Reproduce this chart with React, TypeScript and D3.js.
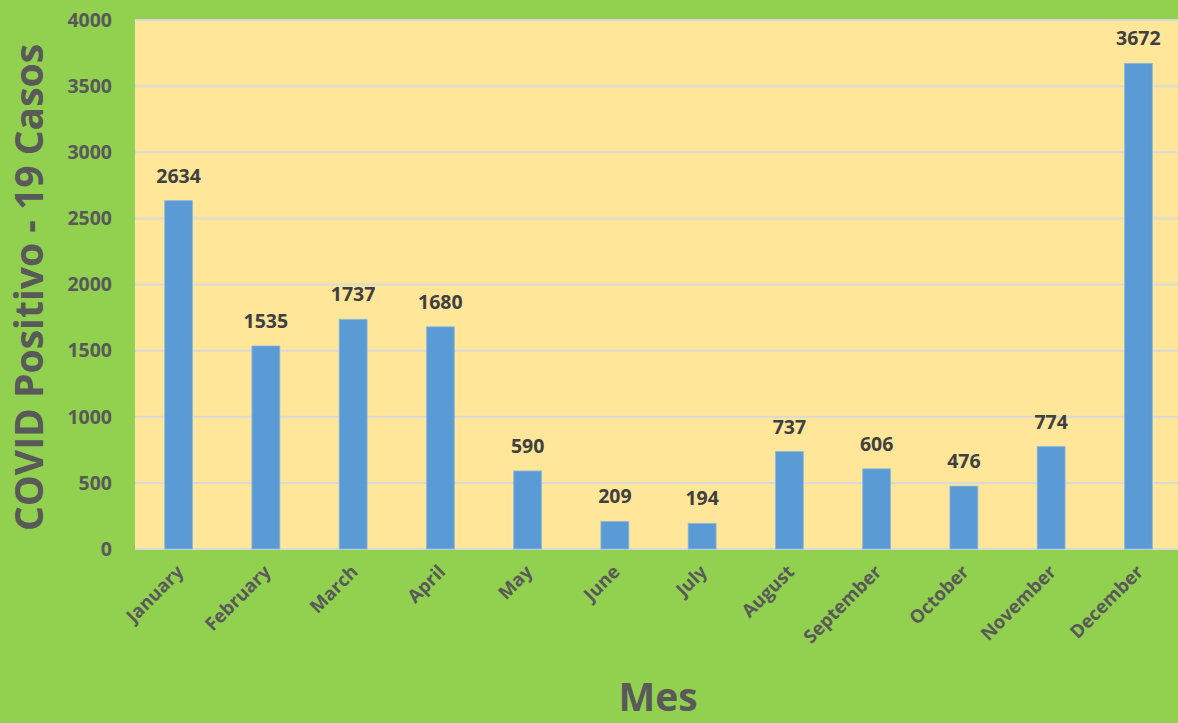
import React from 'react';
import * as d3 from 'd3';

const months = ['January', 'February', 'March', 'April', 'May', 'June', 'July', 'August', 'September', 'October', 'November', 'December'];
const casos = [2634, 1535, 1737, 1680, 590, 209, 194, 737, 606, 476, 774, 3672];
const yTicks = [0, 500, 1000, 1500, 2000, 2500, 3000, 3500, 4000];

const W = 1178;
const H = 723;
const plot = { left: 135, right: 1182, top: 20, bottom: 549 };
const font = '"Open Sans", "Liberation Sans", sans-serif';

export default function App() {
  const x = d3.scaleBand<string>().domain(months).range([plot.left, plot.right]).paddingInner(0.68).paddingOuter(0.34);
  const y = d3.scaleLinear().domain([0, 4000]).range([plot.bottom, plot.top]);

  return (
    <svg width={W} height={H} style={{ position: 'absolute', left: 0, top: 0 }}>
      <rect x={0} y={0} width={W} height={H} fill="#92D050" />
      <rect x={plot.left} y={plot.top} width={plot.right - plot.left} height={plot.bottom - plot.top} fill="#FFE699" />
      {yTicks.map(t => (
        <g key={t}>
          <line x1={plot.left} x2={plot.right} y1={y(t)} y2={y(t)} stroke="#D9D9D9" strokeWidth={2} />
          <text x={plot.left - 23} y={y(t)} dy="0.35em" textAnchor="end" fontFamily={font} fontWeight="bold" fontSize={19.5} fill="#595959">{t}</text>
        </g>
      ))}
      {months.map((m, i) => {
        const bx = x(m)!;
        const cx = bx + x.bandwidth() / 2;
        return (
          <g key={m}>
            <rect x={bx} y={y(casos[i])} width={x.bandwidth()} height={y(0) - y(casos[i])} fill="#5B9BD5" stroke="#8FB8E0" strokeWidth={0.8} />
            <text x={cx} y={y(casos[i]) - 18} textAnchor="middle" fontFamily={font} fontWeight="bold" fontSize={19.5} fill="#404040">{casos[i]}</text>
            <text transform={`translate(${cx + 6},${plot.bottom + 24}) rotate(-45)`} textAnchor="end" fontFamily={font} fontWeight="bold" fontSize={18.5} fill="#595959">{m}</text>
          </g>
        );
      })}
      <text transform={`translate(43,${(plot.top + plot.bottom) / 2 + 3}) rotate(-90)`} textAnchor="middle" fontFamily={font} fontWeight="bold" fontSize={39} fill="#595959">COVID Positivo - 19 Casos</text>
      <text x={658} y={711} textAnchor="middle" fontFamily={font} fontWeight="bold" fontSize={39} fill="#595959">Mes</text>
    </svg>
  );
}
